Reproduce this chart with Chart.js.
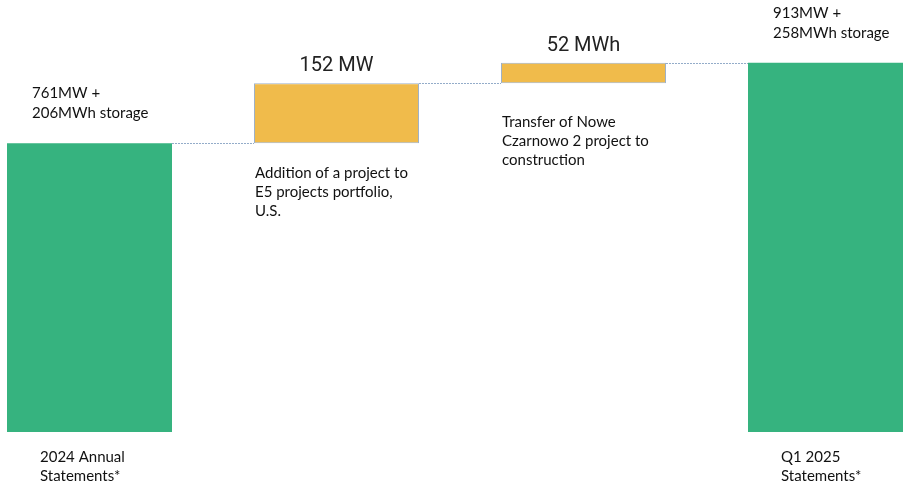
<!DOCTYPE html>
<html>
<head>
<meta charset="utf-8">
<script src="https://cdn.jsdelivr.net/npm/chart.js@4.4.1/dist/chart.umd.min.js"></script>
<style>
  html, body { margin: 0; padding: 0; background: #fff; overflow: hidden; }
  body { width: 903px; height: 488px; position: relative; }
  #wrap { position: absolute; left: -34px; top: 0; width: 988px; height: 488px; }
</style>
</head>
<body>
<div id="wrap"><canvas id="bridgeChart"></canvas></div>
<script>
// Portfel projektów: MW + MWh magazynów, mostek od raportu rocznego do Q1
const categories = ['2024 Annual Statements*', 'Addition of a project', 'Transfer of Nowe Czarnowo 2', 'Q1 2025 Statements*'];
const startMW = 761;
const startMWh = 206;
const stepValues = [152, 52];          // przyrosty: projekt w USA (MW), Nowe Czarnowo 2 (MWh)
const stepUnits = ['MW', 'MWh'];
const endMW = 913;
const endMWh = 258;

// teksty opisów
const topLabels = [['761MW +', '206MWh storage'], null, null, ['913MW +', '258MWh storage']];
const bottomLabels = [['2024 Annual', 'Statements*'], null, null, ['Q1 2025', 'Statements*']];
const stepNotes = [
  ['Addition of a project to', 'E5 projects portfolio,', 'U.S.'],
  ['Transfer of Nowe', 'Czarnowo 2 project to', 'construction']
];

// budowa słupków pływających (waterfall)
const startTotal = startMW + startMWh;
const endTotal = endMW + endMWh;
const ranges = [[0, startTotal]];
let running = startTotal;
stepValues.forEach(v => {
  ranges.push([running, running + v]);
  running += v;
});
ranges.push([0, endTotal]);

const GREEN = '#36b37f';
const ORANGE = '#f0bb4b';
const barColors = [GREEN, ORANGE, ORANGE, GREEN];

const textFont = '15px Lato, "Open Sans", sans-serif';
const numFont = '20px Roboto, "Noto Sans", sans-serif';

const bridgePlugin = {
  id: 'bridge',
  afterDatasetsDraw(chart) {
    const ctx = chart.ctx;
    const bars = chart.getDatasetMeta(0).data;
    const y = chart.scales.y;
    const bottom = chart.chartArea.bottom;

    // linie łączące
    ctx.save();
    ctx.strokeStyle = '#93acc9';
    ctx.lineWidth = 1;
    ctx.setLineDash([2, 1]);
    for (let i = 0; i < bars.length - 1; i++) {
      const a = bars[i], b = bars[i + 1];
      const ly = Math.round(y.getPixelForValue(ranges[i][1])) + 0.5;
      ctx.beginPath();
      ctx.moveTo(a.x + a.width / 2, ly);
      ctx.lineTo(b.x - b.width / 2, ly);
      ctx.stroke();
    }
    ctx.restore();

    ctx.save();
    ctx.fillStyle = '#111';
    ctx.textBaseline = 'alphabetic';

    // etykiety nad i pod słupkami sumarycznymi
    ctx.font = textFont;
    ctx.textAlign = 'left';
    bars.forEach((bar, i) => {
      const left = bar.x - bar.width / 2;
      if (topLabels[i]) {
        topLabels[i].forEach((line, k) => ctx.fillText(line, left + 25, bar.y - 45 + k * 20));
      }
      if (bottomLabels[i]) {
        bottomLabels[i].forEach((line, k) => ctx.fillText(line, left + 33, bottom + 30 + k * 19));
      }
    });

    // przyrosty: wartość nad słupkiem i opis pod nim
    stepValues.forEach((v, j) => {
      const bar = bars[j + 1];
      const left = bar.x - bar.width / 2;
      ctx.font = numFont;
      ctx.textAlign = 'center';
      ctx.fillStyle = '#222';
      ctx.fillText(v + ' ' + stepUnits[j], bar.x, bar.y - 12);
      ctx.font = textFont;
      ctx.textAlign = 'left';
      ctx.fillStyle = '#111';
      const noteTop = j === 0 ? 35 : 44;
      stepNotes[j].forEach((line, k) => ctx.fillText(line, left + 1, bar.base + noteTop + k * 19));
    });
    ctx.restore();
  }
};

const ctx = document.getElementById('bridgeChart').getContext('2d');
const bridgeChart = new Chart(ctx, {
  type: 'bar',
  data: {
    labels: categories,
    datasets: [{
      data: ranges,
      backgroundColor: barColors,
      borderColor: ['rgba(0,0,0,0)', '#9fb1c6', '#9fb1c6', 'rgba(0,0,0,0)'],
      borderWidth: [0, 1, 1, 0],
      borderSkipped: false,
      categoryPercentage: 1,
      barPercentage: 0.668
    }]
  },
  options: {
    responsive: true,
    maintainAspectRatio: false,
    animation: false,
    layout: { padding: { top: 0, bottom: 56, left: 0, right: 0 } },
    plugins: {
      legend: { display: false },
      tooltip: { enabled: false }
    },
    scales: {
      x: {
        display: false,
        grid: { display: false }
      },
      y: {
        display: false,
        min: 236,
        max: 1330,
        grid: { display: false }
      }
    }
  },
  plugins: [bridgePlugin]
});
</script>
</body>
</html>
